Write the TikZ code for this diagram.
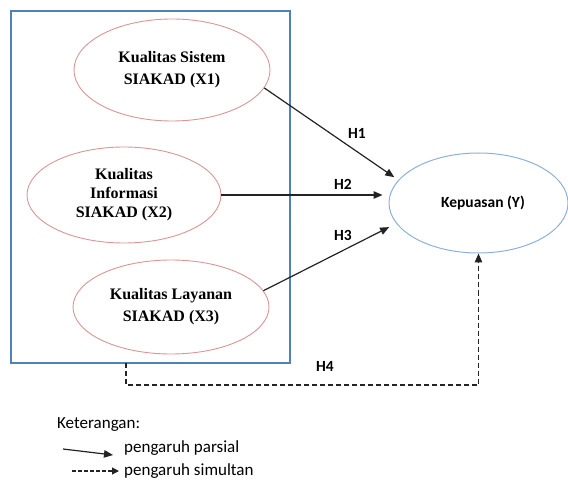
\documentclass[tikz,border=0pt]{standalone}
\usepackage{fontspec}
\setmainfont{Liberation Serif}
\newfontfamily\calfont{Carlito}
\usetikzlibrary{shapes.geometric,arrows.meta,calc}
\definecolor{boxblue}{RGB}{79,129,189}
\definecolor{pinkline}{RGB}{217,150,148}
\definecolor{lightblue}{RGB}{141,176,218}
\definecolor{arrowgray}{RGB}{35,35,35}
\tikzset{
  xnode/.style={ellipse, draw=pinkline, line width=0.9pt, align=center, inner sep=0pt,
    font=\fontsize{16}{22}\selectfont\bfseries},
  ynode/.style={ellipse, draw=lightblue, line width=1pt, align=center, inner sep=0pt,
    font=\calfont\fontsize{15.5}{19}\selectfont\bfseries},
  conn/.style={draw=arrowgray, line width=1.2pt, -{Triangle[length=9pt,width=7.5pt]}},
  dconn/.style={draw=arrowgray, line width=1.2pt, dash pattern=on 5pt off 3pt, -{Triangle[length=9pt,width=7.5pt]}},
  hlabel/.style={font=\calfont\fontsize{15.5}{19}\selectfont\bfseries, inner sep=0pt},
  legtext/.style={font=\calfont\fontsize{17}{20}\selectfont, inner sep=0pt, anchor=west},
}
\begin{document}
\begin{tikzpicture}[x=1pt,y=-1pt]
\useasboundingbox (0,0) rectangle (568,481);
% frame
\node[draw=boxblue, line width=1.1pt, minimum width=279pt, minimum height=352pt, inner sep=0pt] (box) at (150.5,187) {};
% ellipses
\node[xnode, minimum width=196pt, minimum height=102pt] (x1) at (172,70) {Kualitas Sistem\\SIAKAD (X1)};
\node[xnode, minimum width=194pt, minimum height=96pt, font=\fontsize{16}{19}\selectfont\bfseries] (x2) at (124,195) {Kualitas\\Informasi\\SIAKAD (X2)};
\node[xnode, minimum width=196pt, minimum height=94pt] (x3) at (171,307) {Kualitas Layanan\\ SIAKAD (X3)};
\node[ynode, minimum width=179pt, minimum height=100pt] (y) at (478.5,203) {\hspace*{9pt}Kepuasan (Y)};
% connectors
\draw[conn, shorten >=5pt] (x1.-11) -- (y.164);
\draw[conn, shorten >=6pt] (x2.east) -- (x2.east -| y.west);
\draw[conn, shorten >=8pt] (x3.10) -- (y.194);
\coordinate (h4s) at (126,363);
\coordinate (h4c) at (126,385);
\draw[dconn] (h4s) -- (h4c) -| (y.south);
% labels
\node[hlabel] (h1) at (357,133) {H1};
\node[hlabel] (h2) at (343,184) {H2};
\node[hlabel] (h3) at (343,235) {H3};
\node[hlabel] (h4) at (325,366) {H4};
% legend
\node[legtext] (ket) at (57,425) {Keterangan:};
\node[legtext] (lp) at (124,448) {pengaruh parsial};
\node[legtext] (ls) at (124,471) {pengaruh simultan};
\coordinate (la1) at (63,449);
\coordinate (la2) at (113,455);
\coordinate (lb1) at (72,471);
\coordinate (lb2) at (119,471);
\draw[conn] (la1) -- (la2);
\draw[dconn, dash pattern=on 3.5pt off 2.5pt, -{Triangle[length=7pt,width=7pt]}] (lb1) -- (lb2);
\end{tikzpicture}
\end{document}
